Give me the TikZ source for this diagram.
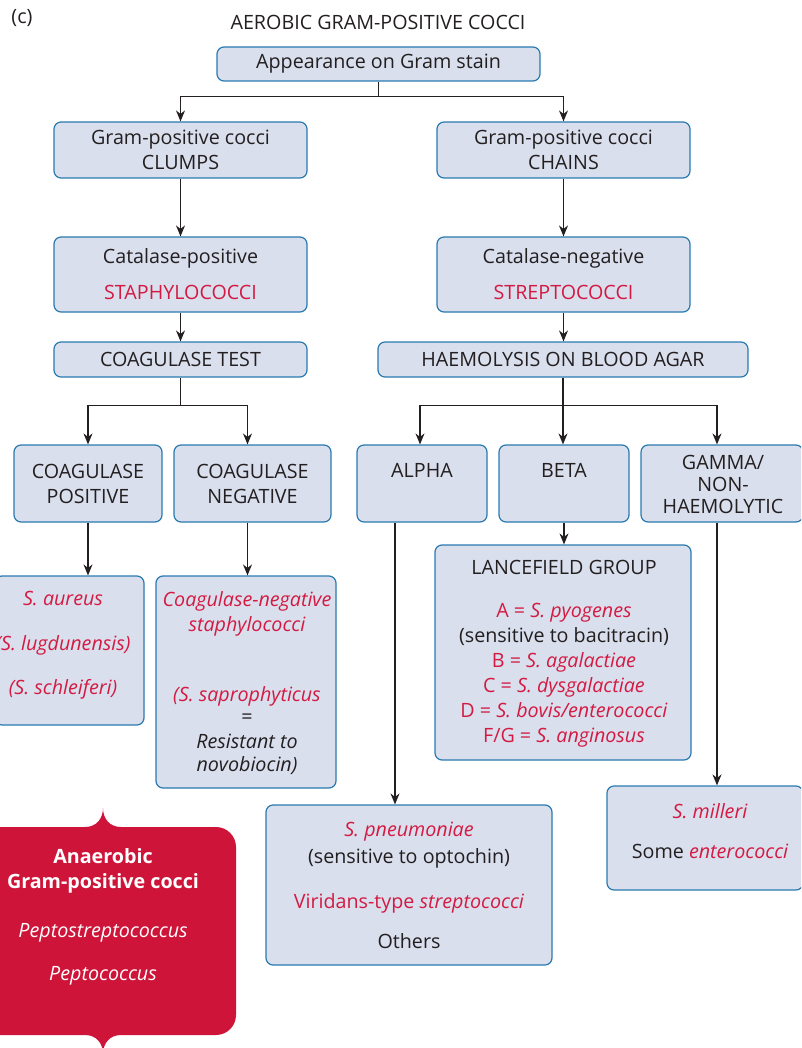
\documentclass[tikz,border=0pt]{standalone}
\usepackage{fontspec}
\setmainfont{Open Sans}
\usetikzlibrary{arrows.meta}
\definecolor{bfill}{HTML}{D9DFED}
\definecolor{bdraw}{HTML}{2A7AB0}
\definecolor{rtext}{HTML}{D41A42}
\definecolor{rbox}{HTML}{CE1539}
\definecolor{dtext}{HTML}{231F20}
\newcommand{\fs}{\fontsize{19.7}{25}\selectfont}
\newcommand{\fsg}{\fontsize{19.7}{22}\selectfont}
\newcommand{\rd}[1]{\textcolor{rtext}{#1}}
\newcommand{\ri}[1]{\textcolor{rtext}{\itshape #1}}
\begin{document}
\begin{tikzpicture}[x=1pt,y=1pt,
 box/.style={draw=bdraw,fill=bfill,line width=1.2pt,rounded corners=7pt,inner sep=0pt},
 txt/.style={font=\fs,text=dtext,align=center,inner sep=0pt},
 arr/.style={draw=dtext,line width=1.2pt,-{Stealth[length=11pt,width=9pt]}}]
\useasboundingbox (0,0) rectangle (801,-1048);
\clip (0,0) rectangle (801,-1048);

\node[txt] (lbl) at (22,-18) {(c)};
\node[txt] (title) at (378,-22) {AEROBIC GRAM-POSITIVE COCCI};

\node[box,txt,minimum width=323pt,minimum height=34pt] (top) at (378.5,-64) {Appearance on Gram stain};
\node[box,txt,minimum width=253pt,minimum height=56pt] (clumps) at (180.5,-150) {Gram-positive cocci\\CLUMPS};
\node[box,txt,minimum width=253pt,minimum height=56pt] (chains) at (563.5,-150) {Gram-positive cocci\\CHAINS};
\node[box,txt,minimum width=253pt,minimum height=75pt] (catpos) at (180.5,-274.5) {Catalase-positive\\[11pt]\rd{STAPHYLOCOCCI}};
\node[box,txt,minimum width=253pt,minimum height=75pt] (catneg) at (563.5,-274.5) {Catalase-negative\\[11pt]\rd{STREPTOCOCCI}};
\node[box,txt,minimum width=253pt,minimum height=35pt] (coagtest) at (180.5,-359.5) {COAGULASE TEST};
\node[box,txt,minimum width=370pt,minimum height=35pt] (haem) at (563,-359.5) {HAEMOLYSIS ON BLOOD AGAR};
\node[box,txt,minimum width=148pt,minimum height=77pt] (coagpos) at (88,-483.5) {COAGULASE\\POSITIVE};
\node[box,txt,minimum width=157pt,minimum height=77pt] (coagneg) at (252.5,-483.5) {COAGULASE\\NEGATIVE};
\node[box,minimum width=130pt,minimum height=77pt] (alpha) at (422,-483.5) {};
\node[txt] (alphat) at (422,-470) {ALPHA};
\node[box,minimum width=130pt,minimum height=77pt] (beta) at (564,-483.5) {};
\node[txt] (betat) at (564,-470) {BETA};
\node[box,minimum width=162pt,minimum height=77pt] (gamma) at (722,-483.5) {};
\node[txt,font=\fsg] (gammat) at (723,-484) {GAMMA/\\NON-\\HAEMOLYTIC};

\node[box,minimum width=149pt,minimum height=149pt] (saureus) at (69.5,-650.5) {};
\node[txt,font=\fs\itshape,text=rtext] (saureust) at (63,-645.5) {S. aureus\\[20pt](S. lugdunensis)\\[19pt](S. schleiferi)};

\node[box,minimum width=180pt,minimum height=212pt] (cnstaph) at (246,-682) {};
\node[txt,font=\fs\itshape] (cnstapht) at (247,-683.5) {\rd{Coagulase-negative}\\\rd{staphylococci}\\[45pt]\rd{(S. saprophyticus}\\[-3pt]\upshape=\\Resistant to\\[-2pt]novobiocin)};

\node[box,minimum width=256pt,minimum height=215pt] (lancef) at (563,-652.5) {};
\node[txt] (lanceft) at (564,-654) {LANCEFIELD GROUP\\[18pt]\rd{A = \textit{S. pyogenes}}\\(sensitive to bacitracin)\\\rd{B = \textit{S. agalactiae}}\\\rd{C = \textit{S. dysgalactiae}}\\\rd{D = \textit{S. bovis/enterococci}}\\\rd{F/G = \textit{S. anginosus}}};

\node[box,minimum width=196pt,minimum height=104pt] (milleri) at (705,-838) {};
\node[txt] (millerit) at (710,-831) {\ri{S. milleri}\\[15pt]Some \ri{enterococci}};

\node[box,minimum width=286pt,minimum height=160pt] (pneum) at (409,-885) {};
\node[txt] (pneumt) at (409,-885) {\ri{S. pneumoniae}\\[2pt](sensitive to optochin)\\[20pt]\rd{Viridans-type \textit{streptococci}}\\[15pt]Others};

\fill[rbox] (-10,-827) -- (85,-827) .. controls (97,-827) and (103,-818) .. (103,-808)
  .. controls (103,-818) and (109,-827) .. (121,-827) -- (216,-827)
  arc[start angle=90,end angle=0,radius=20] -- (236,-1015)
  arc[start angle=0,end angle=-90,radius=20] -- (121,-1035)
  .. controls (109,-1035) and (103,-1044) .. (103,-1054)
  .. controls (103,-1044) and (97,-1035) .. (85,-1035) -- (-10,-1035) -- cycle;
\node[txt,text=white] (anaer) at (103,-917) {\textbf{Anaerobic}\\\textbf{Gram-positive cocci}\\[24pt]\textit{Peptostreptococcus}\\[18pt]\textit{Peptococcus}};

\draw[arr] (top.south) -- ++(0,-15) -| (clumps.north);
\draw[arr] (top.south) -- ++(0,-15) -| (chains.north);
\draw[arr] (clumps.south) -- (catpos.north);
\draw[arr] (chains.south) -- (catneg.north);
\draw[arr] (catpos.south) -- (coagtest.north);
\draw[arr] (catneg.south) -- (catneg.south |- haem.north);
\draw[arr] (coagtest.south) -- ++(0,-28) -| (coagpos.north);
\draw[arr] (coagtest.south) -- ++(0,-28) -| ([xshift=-5pt]coagneg.north);
\draw[arr] (haem.south) -- ++(0,-28) -| ([xshift=-2pt]alpha.north);
\draw[arr] (haem.south) -- (haem.south |- beta.north);
\draw[arr] (haem.south) -- ++(0,-28) -| ([xshift=-5pt]gamma.north);
\draw[arr] (beta.south) -- (beta.south |- lancef.north);
\draw[arr] ([xshift=-27pt]alpha.south) -- ([xshift=-27pt]alpha.south |- pneum.north);
\draw[arr] ([xshift=-5pt]gamma.south) -- ([xshift=-5pt]gamma.south |- milleri.north);
\draw[arr] (coagpos.south) -- (coagpos.south |- saureus.north);
\draw[arr] ([xshift=-5pt]coagneg.south) -- ([xshift=-5pt]coagneg.south |- cnstaph.north);
\end{tikzpicture}
\end{document}
